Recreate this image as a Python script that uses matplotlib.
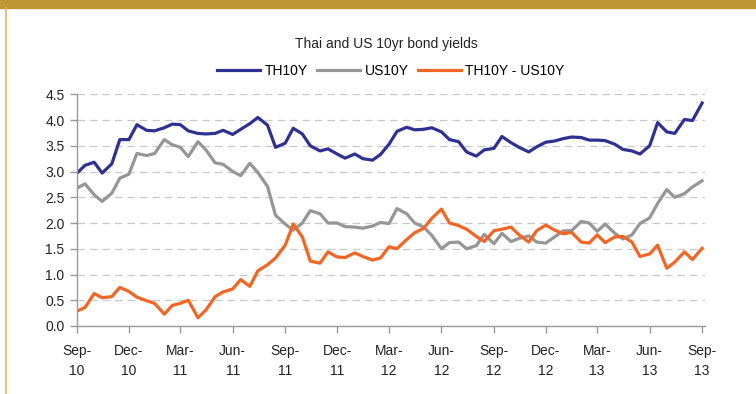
import matplotlib
matplotlib.use('Agg')
import matplotlib.pyplot as plt
from matplotlib.patches import Rectangle
from matplotlib.lines import Line2D
import pandas as pd

# semi-monthly observations, Sep-10 .. Sep-13
dates = pd.date_range('2010-09-01', periods=73, freq='SMS')

th10y = [2.97, 3.12, 3.18, 2.97, 3.15, 3.62, 3.62, 3.91, 3.80, 3.79,
         3.85, 3.92, 3.91, 3.79, 3.74, 3.73, 3.74, 3.80, 3.72, 3.82,
         3.93, 4.05, 3.90, 3.47, 3.55, 3.84, 3.73, 3.50, 3.40, 3.44,
         3.34, 3.26, 3.34, 3.25, 3.22, 3.33, 3.53, 3.78, 3.86, 3.81,
         3.82, 3.85, 3.77, 3.62, 3.58, 3.38, 3.30, 3.42, 3.45, 3.68,
         3.56, 3.47, 3.38, 3.48, 3.57, 3.59, 3.64, 3.67, 3.66, 3.61,
         3.61, 3.60, 3.53, 3.43, 3.40, 3.34, 3.50, 3.95, 3.77, 3.74,
         4.01, 3.99, 4.33]

us10y = [2.68, 2.76, 2.55, 2.42, 2.58, 2.87, 2.95, 3.35, 3.31, 3.35,
         3.62, 3.52, 3.47, 3.29, 3.58, 3.42, 3.17, 3.14, 3.00, 2.92,
         3.16, 2.98, 2.71, 2.15, 1.98, 1.86, 2.00, 2.24, 2.18, 2.00,
         2.00, 1.93, 1.92, 1.90, 1.94, 2.01, 1.99, 2.28, 2.18, 2.00,
         1.92, 1.76, 1.50, 1.62, 1.63, 1.50, 1.56, 1.78, 1.60, 1.80,
         1.64, 1.70, 1.75, 1.63, 1.61, 1.72, 1.85, 1.85, 2.03, 2.00,
         1.84, 1.98, 1.80, 1.69, 1.77, 1.99, 2.10, 2.38, 2.65, 2.50,
         2.57, 2.70, 2.82]

spread = [0.29, 0.36, 0.63, 0.55, 0.57, 0.75, 0.67, 0.56, 0.49, 0.44,
          0.23, 0.40, 0.44, 0.50, 0.16, 0.31, 0.57, 0.66, 0.72, 0.90,
          0.77, 1.07, 1.19, 1.32, 1.57, 1.98, 1.73, 1.26, 1.22, 1.44,
          1.34, 1.33, 1.42, 1.35, 1.28, 1.32, 1.54, 1.50, 1.68, 1.81,
          1.90, 2.09, 2.27, 2.00, 1.95, 1.88, 1.74, 1.64, 1.85, 1.88,
          1.92, 1.77, 1.63, 1.85, 1.96, 1.87, 1.79, 1.82, 1.63, 1.61,
          1.77, 1.62, 1.73, 1.74, 1.63, 1.35, 1.40, 1.57, 1.12, 1.24,
          1.44, 1.29, 1.51]

tick_dates = pd.date_range('2010-09-01', '2013-09-01', freq='3MS')
tick_labels = ['Sep-\n10', 'Dec-\n10', 'Mar-\n11', 'Jun-\n11', 'Sep-\n11',
               'Dec-\n11', 'Mar-\n12', 'Jun-\n12', 'Sep-\n12', 'Dec-\n12',
               'Mar-\n13', 'Jun-\n13', 'Sep-\n13']

plt.rcParams['font.family'] = ['Liberation Sans', 'DejaVu Sans']

fig = plt.figure(figsize=(7.56, 3.94), dpi=100)
ax = fig.add_axes([0.1019, 0.1726, 0.8306, 0.5881])

ax.plot(dates, th10y, color='#2E3192', lw=2.3, label='TH10Y')
ax.plot(dates, us10y, color='#969696', lw=2.3, label='US10Y')
ax.plot(dates, spread, color='#F26522', lw=2.3, label='TH10Y - US10Y')

ax.set_ylim(0, 4.5)
ax.set_yticks([0, 0.5, 1, 1.5, 2, 2.5, 3, 3.5, 4, 4.5])
ax.set_yticklabels(['%.1f' % v for v in ax.get_yticks()])
ax.set_xlim(pd.Timestamp('2010-09-01'), pd.Timestamp('2013-09-06'))
ax.set_xticks(tick_dates)
ax.set_xticklabels(tick_labels, linespacing=1.55)

ax.grid(axis='y', color='#C8C8C8', linestyle=(0, (6, 4)), lw=0.9)
ax.set_axisbelow(True)
for s in ['top', 'right']:
    ax.spines[s].set_visible(False)
for s in ['left', 'bottom']:
    ax.spines[s].set_color('#999999')
    ax.spines[s].set_linewidth(1.0)
ax.tick_params(colors='#999999', length=5, width=1.0, labelcolor='#222222', labelsize=10)
ax.tick_params(axis='x', pad=8)
ax.tick_params(axis='y', pad=4)

fig.text(0.511, 0.888, 'Thai and US 10yr bond yields', ha='center', va='center',
         fontsize=10, color='#222222')
ax.legend(loc='center', bbox_to_anchor=(0.5, 1.1), ncol=3, frameon=False,
          fontsize=10, handlelength=3.1, handletextpad=0.3, columnspacing=0.7,
          borderaxespad=0)

# gold header bar and left border line
fig.patches.append(Rectangle((0, 0.979), 1, 0.021, transform=fig.transFigure,
                             color='#BE9632', zorder=0))
fig.lines.append(Line2D([0.0085, 0.0085], [0, 0.979], transform=fig.transFigure,
                        color='#D9B96A', lw=1.2))

fig.savefig('out.png', dpi=100)
